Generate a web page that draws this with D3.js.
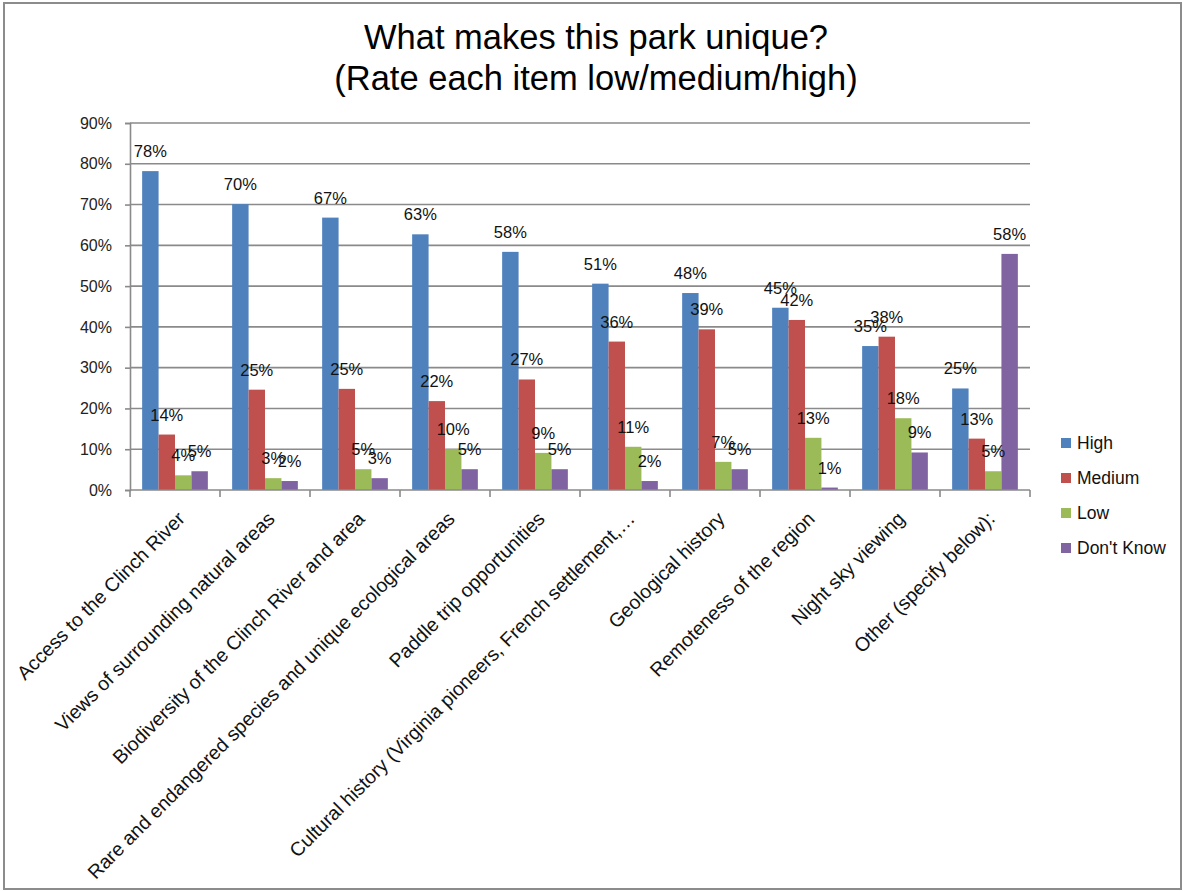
<!DOCTYPE html>
<html>
<head>
<meta charset="utf-8">
<script src="https://cdn.jsdelivr.net/npm/d3@7"></script>
<style>
  html, body { margin: 0; padding: 0; background: #ffffff; }
  svg { display: block; }
</style>
</head>
<body>
<script>
// ---------- data ----------
const titleLines = ["What makes this park unique?", "(Rate each item low/medium/high)"];
const categories = [
  "Access to the Clinch River",
  "Views of surrounding natural areas",
  "Biodiversity of the Clinch River and area",
  "Rare and endangered species and unique ecological areas",
  "Paddle trip opportunities",
  "Cultural history (Virginia pioneers, French settlement,\u2026",
  "Geological history",
  "Remoteness of the region",
  "Night sky viewing",
  "Other (specify below):"
];
const seriesNames = ["High", "Medium", "Low", "Don't Know"];
const high     = [0.782, 0.701, 0.668, 0.627, 0.584, 0.506, 0.483, 0.447, 0.353, 0.249];
const medium   = [0.136, 0.246, 0.248, 0.218, 0.271, 0.364, 0.394, 0.417, 0.376, 0.126];
const low      = [0.036, 0.029, 0.051, 0.100, 0.091, 0.106, 0.069, 0.128, 0.176, 0.046];
const dontKnow = [0.046, 0.022, 0.029, 0.051, 0.051, 0.022, 0.051, 0.006, 0.092, 0.579];
const yTicks   = [0, 0.1, 0.2, 0.3, 0.4, 0.5, 0.6, 0.7, 0.8, 0.9];
const colors   = ["#4F81BD", "#C0504D", "#9BBB59", "#8064A2"];

const seriesValues = [high, medium, low, dontKnow];

// ---------- layout ----------
const W = 1183, H = 891;
const plot = { left: 130, right: 1030, top: 123, bottom: 490 };
const font = "'Liberation Sans', Arial, sans-serif";
const gridColor = "#8a8a8a";

const svg = d3.select("body").append("svg")
  .attr("width", W).attr("height", H);

svg.append("rect").attr("x", 0).attr("y", 0).attr("width", W).attr("height", H).attr("fill", "#fff");
// outer chart border
svg.append("rect")
  .attr("x", 4).attr("y", 3).attr("width", 1177).attr("height", 886)
  .attr("fill", "none").attr("stroke", "#8c8c8c").attr("stroke-width", 2);

// title
const title = svg.append("text")
  .attr("text-anchor", "middle")
  .attr("font-family", font).attr("font-size", 34.5).attr("fill", "#000");
titleLines.forEach((t, i) => {
  title.append("tspan").attr("x", 596).attr("y", 49 + i * 41).text(t);
});

// scales
const x0 = d3.scaleBand().domain(categories)
  .range([plot.left, plot.right]).paddingInner(0.27).paddingOuter(0.135);
const x1 = d3.scaleBand().domain(seriesNames).range([0, x0.bandwidth()]).padding(0);
const y = d3.scaleLinear().domain([0, 0.9]).range([plot.bottom, plot.top]);
const pct = d3.format(".0%");

// gridlines
svg.append("g").selectAll("line").data(yTicks.filter(d => d > 0)).join("line")
  .attr("x1", plot.left).attr("x2", plot.right)
  .attr("y1", d => y(d)).attr("y2", d => y(d))
  .attr("stroke", gridColor).attr("stroke-width", 1.6);

// y axis
const yAxis = svg.append("g")
  .attr("transform", `translate(${plot.left},0)`)
  .call(d3.axisLeft(y).tickValues(yTicks).tickFormat(pct).tickSize(5).tickPadding(13));
yAxis.select(".domain").attr("stroke", gridColor).attr("stroke-width", 1.6);
yAxis.selectAll(".tick line").attr("stroke", gridColor).attr("stroke-width", 1.6);
yAxis.selectAll(".tick text")
  .attr("font-family", font).attr("font-size", 16).attr("fill", "#222");

// bars
const groups = svg.append("g").selectAll("g").data(categories).join("g")
  .attr("transform", d => `translate(${x0(d)},0)`);

groups.selectAll("rect")
  .data((c, i) => seriesNames.map((s, j) => ({ s, j, v: seriesValues[j][i] })))
  .join("rect")
  .attr("x", d => x1(d.s))
  .attr("width", x1.bandwidth())
  .attr("y", d => y(d.v))
  .attr("height", d => y(0) - y(d.v))
  .attr("fill", d => colors[d.j]);

// data labels
groups.selectAll("text")
  .data((c, i) => seriesNames.map((s, j) => ({ s, j, v: seriesValues[j][i] })))
  .join("text")
  .attr("x", d => x1(d.s) + x1.bandwidth() / 2)
  .attr("y", d => y(d.v) - 14)
  .attr("text-anchor", "middle")
  .attr("font-family", font).attr("font-size", 16.5).attr("fill", "#111")
  .text(d => pct(d.v));

// x axis
const xTickPositions = categories.map(c => x0(c) - x0.step() * x0.paddingInner() / 2);
xTickPositions.push(plot.right);
const xAxis = svg.append("g");
xAxis.append("line")
  .attr("x1", plot.left).attr("x2", plot.right)
  .attr("y1", plot.bottom).attr("y2", plot.bottom)
  .attr("stroke", gridColor).attr("stroke-width", 1.6);
xAxis.selectAll("line.tick").data(xTickPositions).join("line")
  .attr("class", "tick")
  .attr("x1", d => d).attr("x2", d => d)
  .attr("y1", plot.bottom).attr("y2", plot.bottom + 7)
  .attr("stroke", gridColor).attr("stroke-width", 1.6);

xAxis.selectAll("text").data(categories).join("text")
  .attr("transform", d => `translate(${x0(d) + x0.bandwidth() / 2 + 11},${plot.bottom + 30}) rotate(-45)`)
  .attr("text-anchor", "end")
  .attr("font-family", font).attr("font-size", 19.5).attr("fill", "#111")
  .text(d => d);

// legend
const legend = svg.append("g").selectAll("g").data(seriesNames).join("g")
  .attr("transform", (d, i) => `translate(1061,${443 + i * 35})`);
legend.append("rect")
  .attr("x", 0).attr("y", -5).attr("width", 10).attr("height", 10)
  .attr("fill", (d, i) => colors[i]);
legend.append("text")
  .attr("x", 16).attr("y", 0).attr("dy", "0.35em")
  .attr("font-family", font).attr("font-size", 17.5).attr("fill", "#111")
  .text(d => d);
</script>
</body>
</html>
